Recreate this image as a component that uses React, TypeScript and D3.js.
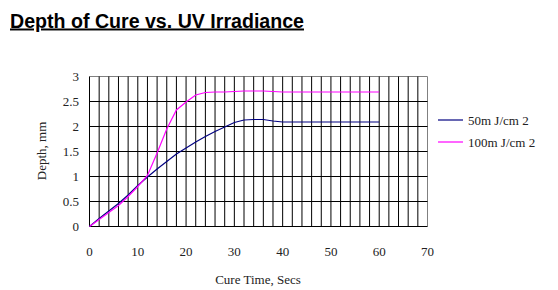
import React from 'react';
import * as d3 from 'd3';

// sample times, seconds
const times = [0, 2, 4, 6, 8, 10, 12, 14, 16, 18, 20, 22, 24, 26, 28, 30, 32, 34, 36, 38, 40, 42, 44, 46, 48, 50, 52, 54, 56, 58, 60];

// depth of cure, mm
const depth50 = [0, 0.16, 0.31, 0.46, 0.63, 0.82, 0.99, 1.15, 1.3, 1.45, 1.57, 1.69, 1.8, 1.9, 1.99, 2.08, 2.13, 2.14, 2.14, 2.11, 2.09, 2.09, 2.09, 2.09, 2.09, 2.09, 2.09, 2.09, 2.09, 2.09, 2.09];
const depth100 = [0, 0.14, 0.28, 0.42, 0.6, 0.8, 1.02, 1.47, 1.95, 2.33, 2.49, 2.63, 2.68, 2.69, 2.69, 2.7, 2.71, 2.71, 2.71, 2.7, 2.69, 2.69, 2.69, 2.69, 2.69, 2.69, 2.69, 2.69, 2.69, 2.69, 2.69];

const seriesNames = ['50m J/cm 2', '100m J/cm 2'];
const seriesColors = ['#000080', '#ff00ff'];

const xTicks = [0, 10, 20, 30, 40, 50, 60, 70];
const yTicks = [0, 0.5, 1, 1.5, 2, 2.5, 3];
const yTickLabels = ['0', '0.5', '1', '1.5', '2', '2.5', '3'];

const plot = { left: 89.5, right: 427.5, top: 76.5, bottom: 226.5 };
const serif = '"Liberation Serif", "Times New Roman", serif';

export default function App() {
    const x = d3.scaleLinear().domain([0, 70]).range([plot.left, plot.right]);
    const y = d3.scaleLinear().domain([0, 3]).range([plot.bottom, plot.top]);

    const line = d3.line<number>()
        .x((d, i) => x(times[i]))
        .y(d => y(d));

    const vGrid = d3.range(0, 70, 2);
    const hGrid = d3.range(0, 3, 0.5);

    return <svg width={558} height={290} style={{ position: 'absolute', left: 0, top: 0, background: '#fff' }}>
        <text x={10} y={27.5} fontFamily='"Liberation Sans", Arial, sans-serif' fontWeight="bold" fontSize={19.6}
            textDecoration="underline">Depth of Cure vs. UV Irradiance</text>

        {/* plot frame */}
        <line x1={plot.left} x2={plot.right} y1={plot.top} y2={plot.top} stroke="#808080" />
        <line x1={plot.right} x2={plot.right} y1={plot.top} y2={plot.bottom} stroke="#808080" />

        {vGrid.map(v => <line key={'v' + v} x1={x(v)} x2={x(v)} y1={plot.top} y2={plot.bottom} stroke="#000" />)}
        {hGrid.map(v => <line key={'h' + v} x1={plot.left} x2={plot.right} y1={y(v)} y2={y(v)} stroke="#000" />)}

        {xTicks.map(t => <text key={'xt' + t} x={x(t)} y={256} textAnchor="middle" fontFamily={serif} fontSize={13}
            fill="#222">{t}</text>)}
        {yTicks.map((t, i) => <text key={'yt' + t} x={79} y={y(t) + 4.5} textAnchor="end" fontFamily={serif} fontSize={13}
            fill="#222">{yTickLabels[i]}</text>)}

        <text x={258} y={284} textAnchor="middle" fontFamily={serif} fontSize={13} fill="#222">Cure Time, Secs</text>
        <text transform="translate(46,151) rotate(-90)" textAnchor="middle" fontFamily={serif} fontSize={13}
            fill="#222">Depth, mm</text>

        {[depth50, depth100].map((s, i) => <path key={'s' + i} d={line(s) || ''} fill="none" stroke={seriesColors[i]}
            strokeWidth={1.2} />)}

        {seriesNames.map((n, i) => <g key={'lg' + i} transform={`translate(438,${120 + i * 22})`}>
            <line x1={0} x2={25} y1={0} y2={0} stroke={seriesColors[i]} strokeWidth={1.2} />
            <text x={30} y={4.5} fontFamily={serif} fontSize={13} fill="#222">{n}</text>
        </g>)}
    </svg>
}
